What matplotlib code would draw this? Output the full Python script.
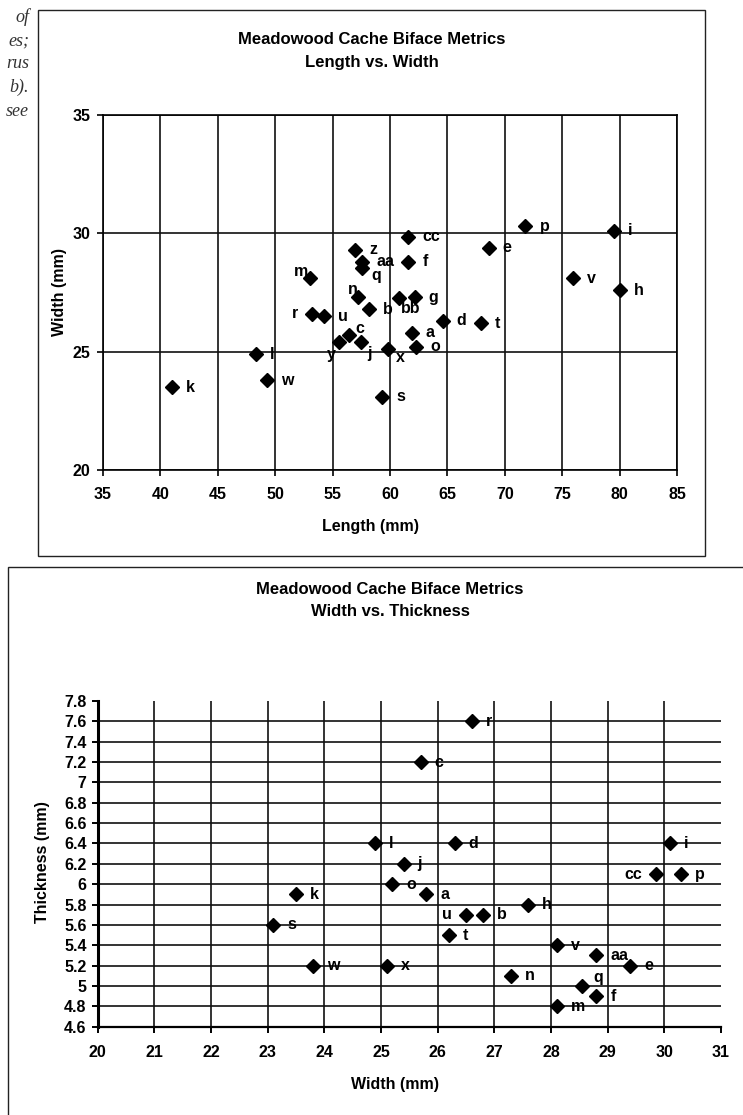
import numpy as np
import matplotlib.pyplot as plt
from matplotlib.patches import Rectangle

# Biface ids and measurements (mm)
ids = ['a', 'b', 'c', 'd', 'e', 'f', 'g', 'h', 'i', 'j', 'k', 'l', 'm', 'n',
       'o', 'p', 'q', 'r', 's', 't', 'u', 'v', 'w', 'x', 'y', 'z', 'aa', 'bb', 'cc']
length = [61.9, 58.2, 56.4, 64.6, 68.6, 61.6, 62.15, 80.0, 79.5, 57.5, 41.0, 48.3, 53.0, 57.2,
          62.3, 71.8, 57.6, 53.2, 59.3, 67.9, 54.25, 75.9, 49.3, 59.85, 55.6, 56.95, 57.6, 60.8, 61.6]
width = [25.8, 26.8, 25.7, 26.3, 29.4, 28.8, 27.3, 27.6, 30.1, 25.4, 23.5, 24.9, 28.1, 27.3,
         25.2, 30.3, 28.55, 26.6, 23.1, 26.2, 26.5, 28.1, 23.8, 25.1, 25.4, 29.3, 28.8, 27.25, 29.85]
thickness = [5.9, 5.7, 7.2, 6.4, 5.2, 4.9, np.nan, 5.8, 6.4, 6.2, 5.9, 6.4, 4.8, 5.1,
             6.0, 6.1, 5.0, 7.6, 5.6, 5.5, 5.7, 5.4, 5.2, 5.2, np.nan, np.nan, 5.3, np.nan, 6.1]

len_ticks = [35, 40, 45, 50, 55, 60, 65, 70, 75, 80, 85]
wid_ticks = [20, 25, 30, 35]
wid_ticks2 = list(range(20, 32))
thk_ticks = [4.6, 4.8, 5.0, 5.2, 5.4, 5.6, 5.8, 6.0, 6.2, 6.4, 6.6, 6.8, 7.0, 7.2, 7.4, 7.6, 7.8]

W, H = 743, 1115
plt.rcParams['font.family'] = 'Liberation Sans'
plt.rcParams['font.weight'] = 'bold'
FS = 11.5      # ticks, point labels, axis labels
TFS = 12       # titles

fig = plt.figure(figsize=(W / 100, H / 100), dpi=100)


def fx(px):
    return px / W


def fy(py):
    return 1 - py / H


# chart borders
fig.patches.append(Rectangle((fx(38), fy(556)), fx(705 - 38), (556 - 10) / H,
                             transform=fig.transFigure, fill=False, lw=1.0, ec='#222'))
fig.patches.append(Rectangle((fx(8), fy(1130)), fx(760), (1130 - 567) / H,
                             transform=fig.transFigure, fill=False, lw=1.0, ec='#222'))

# clipped text from the page on the left
for i, t in enumerate(['of', 'es;', 'rus', 'b).', 'see']):
    fig.text(fx(29), fy(17 + i * 23.5), t, ha='right', va='center', fontsize=13,
             family='Liberation Serif', style='italic', weight='normal', color='#333')


def label_points(ax, xs, ys, special):
    for name, x, y in zip(ids, xs, ys):
        if np.isnan(x) or np.isnan(y):
            continue
        dx, dy, ha = special.get(name, (14, 0, 'left'))
        ax.annotate(name, (x, y), xytext=(dx, dy), textcoords='offset pixels',
                    ha=ha, va='center', fontsize=FS, fontweight='bold')


# ---- Length vs Width ----
ax1 = fig.add_axes([fx(103), fy(470), fx(677 - 103), (470 - 115) / H])
ax1.plot(length, width, 'D', color='black', ms=6.8, ls='none', zorder=3)
ax1.set_xlim(35, 85)
ax1.set_ylim(20, 35)
ax1.set_xticks(len_ticks)
ax1.set_yticks(wid_ticks)
ax1.grid(True, color='#111', lw=1.2)
ax1.set_axisbelow(True)
for s in ax1.spines.values():
    s.set_linewidth(1.2)
ax1.tick_params(labelsize=FS, length=4, width=1.2, pad=5)
ax1.tick_params(axis='x', pad=8)
special1 = {
    'm': (-2, 7, 'right'), 'n': (0, 8, 'right'), 'q': (9, -8, 'left'),
    'bb': (2, -10, 'left'), 'r': (-14, 0, 'right'), 'c': (7, 7, 'left'),
    'y': (-4, -12, 'right'), 'j': (6, -11, 'left'), 'x': (8, -8, 'left'),
}
label_points(ax1, np.array(length), np.array(width), special1)

fig.text(fx(372), fy(40), 'Meadowood Cache Biface Metrics', ha='center', va='center', fontsize=TFS)
fig.text(fx(372), fy(62), 'Length vs. Width', ha='center', va='center', fontsize=TFS)
fig.text(fx(370), fy(527), 'Length (mm)', ha='center', va='center', fontsize=FS)
fig.text(fx(60), fy(292), 'Width (mm)', ha='center', va='center', fontsize=FS, rotation=90)

# ---- Width vs Thickness ----
ax2 = fig.add_axes([fx(97.7), fy(1026.7), fx(721 - 97.7), (1026.7 - 701) / H])
ax2.plot(width, thickness, 'D', color='black', ms=6.8, ls='none', zorder=3)
ax2.set_xlim(20, 31)
ax2.set_ylim(4.6, 7.8)
ax2.set_xticks(wid_ticks2)
ax2.set_yticks(thk_ticks)
ax2.set_yticklabels([f'{v:g}' for v in thk_ticks])
ax2.grid(True, color='#111', lw=1.2)
ax2.set_axisbelow(True)
ax2.yaxis.get_gridlines()[-1].set_visible(False)
ax2.xaxis.get_gridlines()[-1].set_visible(False)
ax2.spines['top'].set_visible(False)
ax2.spines['right'].set_visible(False)
ax2.spines['left'].set_linewidth(2.2)
ax2.spines['bottom'].set_linewidth(1.6)
ax2.tick_params(labelsize=FS, length=4, width=1.4, pad=4)
ax2.tick_params(axis='x', pad=9)
special2 = {'cc': (-14, 0, 'right'), 'u': (-14, 0, 'right'), 'q': (11, 8, 'left')}
label_points(ax2, np.array(width), np.array(thickness), special2)

fig.text(fx(390), fy(589), 'Meadowood Cache Biface Metrics', ha='center', va='center', fontsize=TFS)
fig.text(fx(390), fy(611), 'Width vs. Thickness', ha='center', va='center', fontsize=TFS)
fig.text(fx(395), fy(1085), 'Width (mm)', ha='center', va='center', fontsize=FS)
fig.text(fx(42), fy(862), 'Thickness (mm)', ha='center', va='center', fontsize=FS, rotation=90)

fig.savefig('out.png', dpi=100)
